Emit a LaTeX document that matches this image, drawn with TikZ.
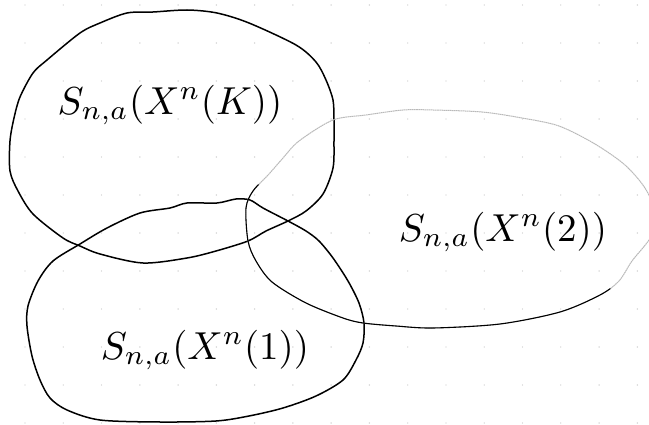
\documentclass[tikz,border=0pt]{standalone}
\usetikzlibrary{calc}
\begin{document}
\begin{tikzpicture}[x=1pt,y=-1pt,
  bold/.style={line width=1.5pt,line join=round,line cap=round},
  thin/.style={line width=1.1pt,line join=round,line cap=round},
  faint/.style={line width=1pt,gray!55,dash pattern=on 1.6pt off 0.5pt},
  griddot/.style={fill=gray!45},
  lab/.style={scale=3.9,inner sep=0pt}]
\useasboundingbox (0,0) rectangle (649,425);
\clip (0,0) rectangle (649,425);
% graph-paper dots
\foreach \i in {0,...,16} {
  \foreach \j in {0,...,11} {
    \fill[griddot] ({25+38.27*\i},{5+38*\j}) circle (0.7pt);
  }
}
% set K (top left)
\draw[bold] plot[smooth cycle,tension=0.5] coordinates {
 (127,13) (153,12) (187,10) (217,13) (249,23) (296,45) (316,62) (326,80)
 (333,100) (334,120) (334,141) (333,168) (323,194) (306,211) (288,221)
 (266,231) (248,241) (216,251) (187,258) (143,263) (100,254) (80,246)
 (63,238) (33,214) (18,191) (10,171) (10,141) (14,118) (20,97) (33,73)
 (47,60) (80,33) (100,23)};
% set 1 (bottom)
\draw[bold] plot[smooth cycle,tension=0.5] coordinates {
 (217,203) (236,199) (250,200) (263,208) (288,221) (306,231)
 (319,241) (333,258) (348,281) (359,303) (364,323) (363,343) (356,360)
 (343,380) (316,396) (283,408) (249,416) (216,421) (160,422) (100,420)
 (67,410) (50,398) (40,380) (32,356) (27,326) (28,306) (38,281) (53,261)
 (80,244) (107,228) (140,213) (170,208) (187,203)};
% set 2 (right): faint top, solid bottom
\def\rightset{plot[smooth cycle,tension=0.5] coordinates {
 (299,141) (333,120) (366,115) (403,110) (433,110) (482,112) (522,118)
 (559,126) (595,144) (625,165) (645,188) (654,210) (652,235) (632,261)
 (619,281) (600,295) (560,312) (500,324) (433,328) (396,326) (363,323)
 (343,318) (306,303) (272,282) (256,261) (248,241) (246,208) (253,191)
 (269,174) (283,158)}}
\draw[faint] \rightset;
\begin{scope}
  \clip (0,108) -- (649,300) -- (649,425) -- (0,425) -- cycle;
  \draw[thin] \rightset;
\end{scope}
% labels
\node[lab] (lk) at (170,105) {$S_{n,a}(X^n(K))$};
\node[lab] (l2) at (503,232) {$S_{n,a}(X^n(2))$};
\node[lab] (l1) at (205,350) {$S_{n,a}(X^n(1))$};
\end{tikzpicture}
\end{document}
